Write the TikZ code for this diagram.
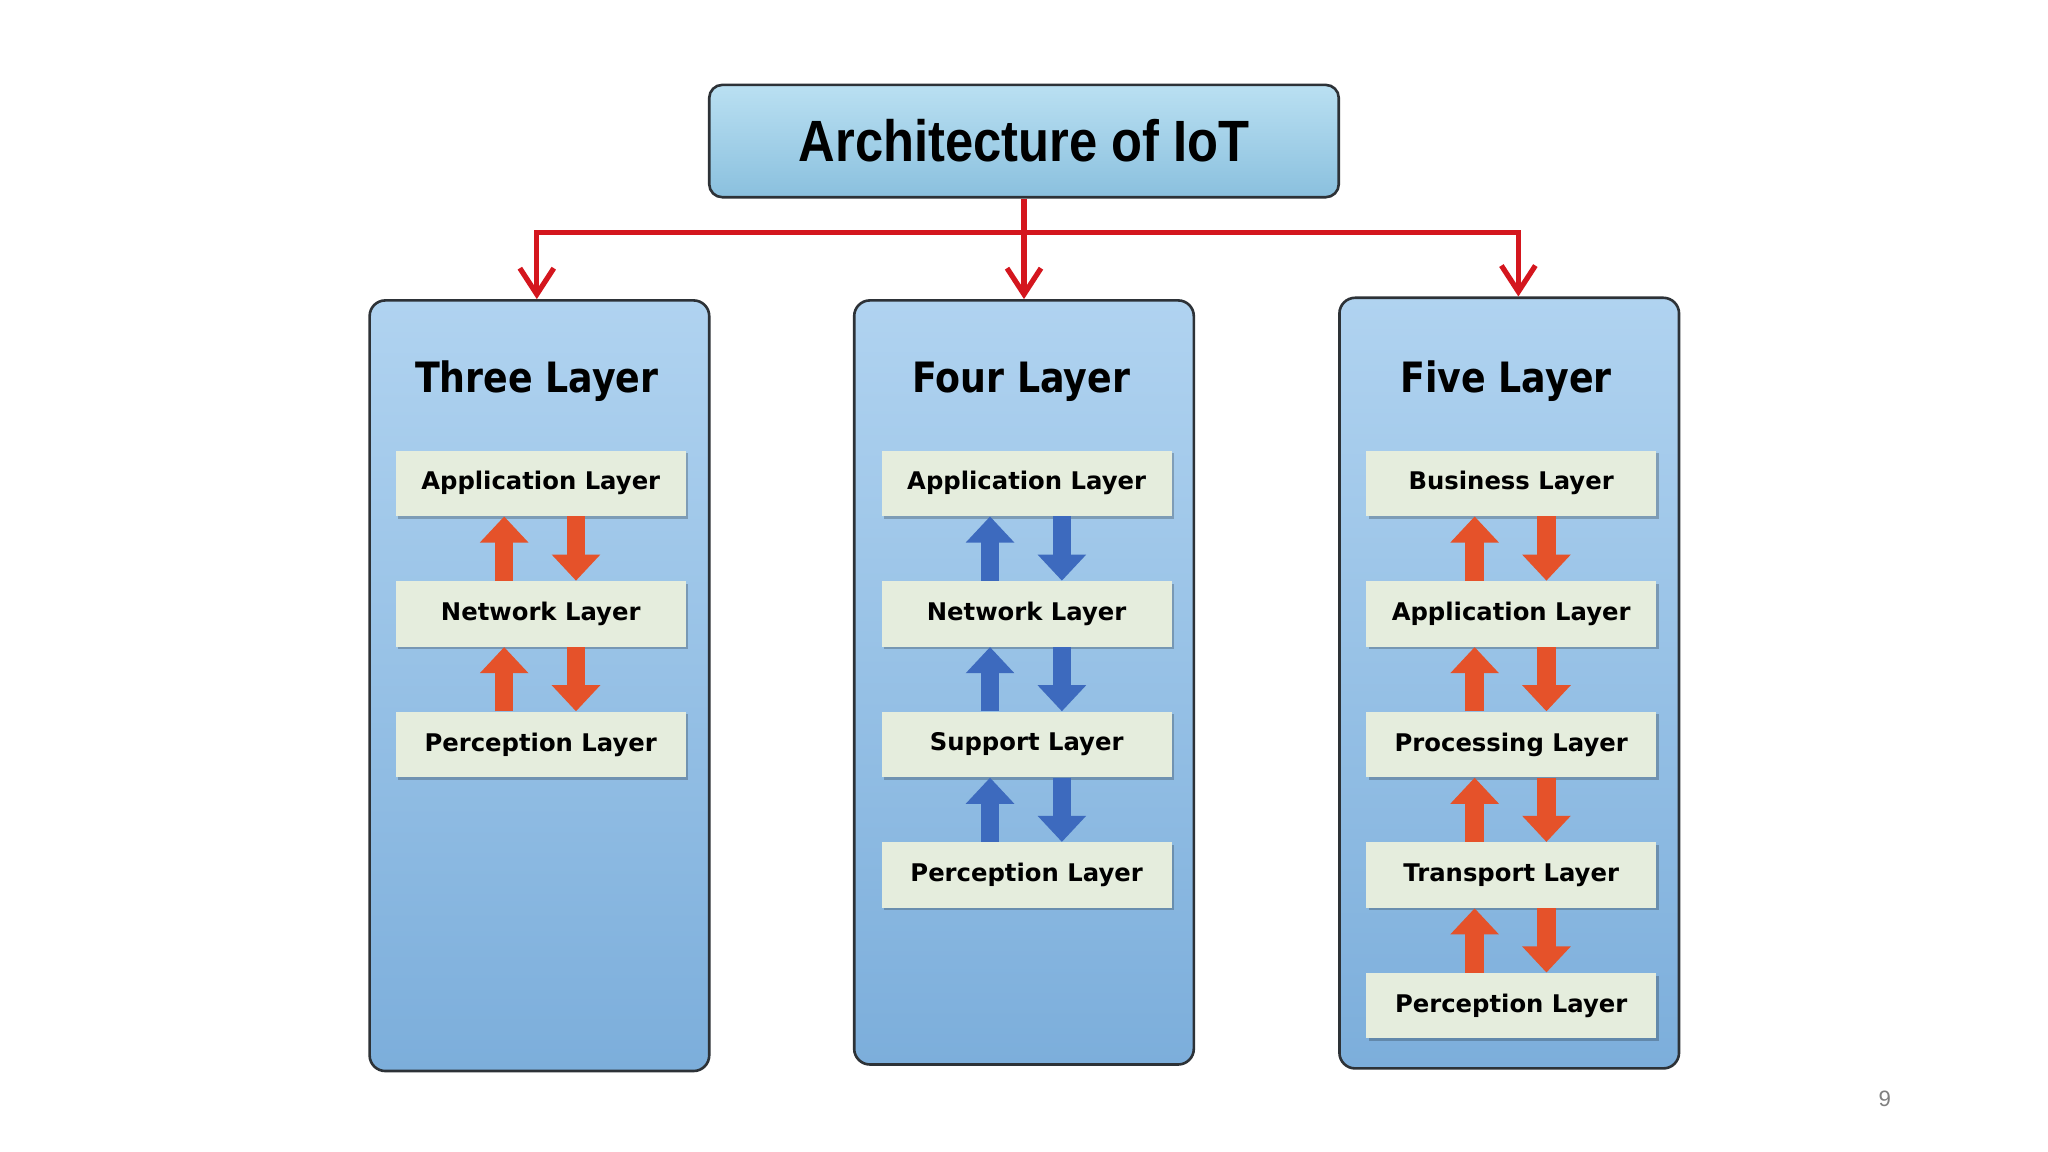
\documentclass[tikz,border=0pt]{standalone}
\usepackage{fontspec}
\setmainfont{Liberation Sans}
\newfontfamily\titlefont[FakeStretch=0.87]{Liberation Sans}
\newfontfamily\headfont[FakeStretch=0.87]{DejaVu Sans}
\newfontfamily\labelfont{DejaVu Sans}
\usetikzlibrary{arrows.meta,shadows}
\definecolor{connred}{RGB}{212,22,30}
\definecolor{outtop}{RGB}{176,211,240}
\definecolor{outbot}{RGB}{124,174,219}
\definecolor{ttop}{RGB}{186,224,242}
\definecolor{tbot}{RGB}{138,192,222}
\definecolor{layerfill}{RGB}{229,237,221}
\definecolor{arrorange}{RGB}{229,82,42}
\definecolor{arrblue}{RGB}{61,106,190}
\definecolor{edgegray}{RGB}{45,50,55}
\newcommand\pairarrows[3]{%
  \draw[#3] ([xshift=-14pt]#2.north) -- ([xshift=-14pt]#1.south);
  \draw[#3] ([xshift=13.5pt]#1.south) -- ([xshift=13.5pt]#2.north);}
\begin{document}
\begin{tikzpicture}[x=0.5pt,y=-0.5pt,
  titlebox/.style={draw=edgegray, line width=1pt, rounded corners=5pt,
    top color=ttop, bottom color=tbot, minimum width=241pt, minimum height=43pt,
    inner sep=0pt, font=\titlefont\bfseries\fontsize{22.3}{26}\selectfont},
  outerbox/.style={draw=edgegray, line width=1pt, rounded corners=6pt,
    top color=outtop, bottom color=outbot, minimum width=130pt, inner sep=0pt},
  headtext/.style={font=\headfont\bfseries\fontsize{16}{19}\selectfont, inner sep=0pt},
  layerbox/.style={fill=layerfill, minimum width=111pt, minimum height=25pt, inner sep=0pt,
    font=\labelfont\bfseries\fontsize{9.3}{11}\selectfont,
    drop shadow={shadow xshift=1pt, shadow yshift=-1pt, fill=black, opacity=0.22}},
  conn/.style={draw=connred, line width=2pt,
    -{Straight Barb[length=10pt, width=13pt, line width=2pt]}},
  orangearr/.style={draw=arrorange, line width=7pt, -{Triangle[width=18pt, length=10pt]}},
  bluearr/.style={draw=arrblue, line width=7pt, -{Triangle[width=18pt, length=10pt]}},
  pagenum/.style={font=\fontsize{8.5}{10}\selectfont, text=black!50, inner sep=0pt}
]
\useasboundingbox (0,0) rectangle (1568,882);
\fill[white] (0,0) rectangle (1568,882);

% title
\node[titlebox] (title) at (784,108) {Architecture of IoT};

% outer columns
\node[outerbox, minimum height=295pt] (three) at (413,525) {};
\node[outerbox, minimum height=292.5pt] (four) at (784,522.5) {};
\node[outerbox, minimum height=295pt] (five) at (1155.5,523) {};

% connectors
\coordinate (j) at (784,178);
\draw[conn] (title.south) -- (four.north);
\draw[conn] (j) -| ([xshift=-1pt]three.north);
\draw[conn] (j) -| ([xshift=3.5pt]five.north);

% headings
\node[headtext] (h3) at (411,292) {Three Layer};
\node[headtext] (h4) at (782,292) {Four Layer};
\node[headtext] (h5) at (1153,292) {Five Layer};

% three layer
\node[layerbox] (a1) at (414,370) {Application Layer};
\node[layerbox] (a2) at (414,470) {Network Layer};
\node[layerbox] (a3) at (414,570) {Perception Layer};
\pairarrows{a1}{a2}{orangearr}
\pairarrows{a2}{a3}{orangearr}

% four layer
\node[layerbox] (b1) at (786,370) {Application Layer};
\node[layerbox] (b2) at (786,470) {Network Layer};
\node[layerbox] (b3) at (786,570) {Support Layer};
\node[layerbox] (b4) at (786,670) {Perception Layer};
\pairarrows{b1}{b2}{bluearr}
\pairarrows{b2}{b3}{bluearr}
\pairarrows{b3}{b4}{bluearr}

% five layer
\node[layerbox] (c1) at (1157,370) {Business Layer};
\node[layerbox] (c2) at (1157,470) {Application Layer};
\node[layerbox] (c3) at (1157,570) {Processing Layer};
\node[layerbox] (c4) at (1157,670) {Transport Layer};
\node[layerbox] (c5) at (1157,770) {Perception Layer};
\pairarrows{c1}{c2}{orangearr}
\pairarrows{c2}{c3}{orangearr}
\pairarrows{c3}{c4}{orangearr}
\pairarrows{c4}{c5}{orangearr}

% page number
\node[pagenum] (pg) at (1443,841) {9};
\end{tikzpicture}
\end{document}
